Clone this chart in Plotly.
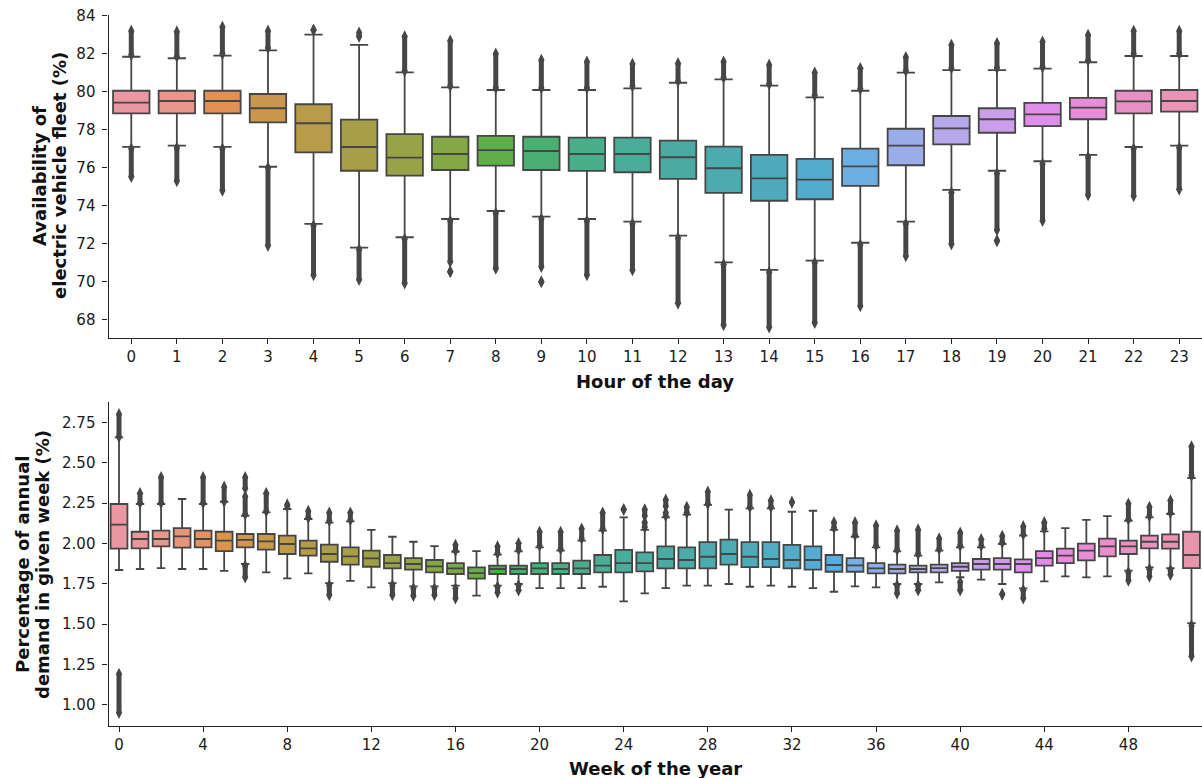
import math
import colorsys
import numpy as np
import plotly.graph_objects as go

# ---------------- data ----------------
hours = list(range(24))
hour_q1 = [78.86, 78.86, 78.86, 78.39, 76.81, 75.84, 75.58, 75.88, 76.11, 75.88, 75.83, 75.76,
           75.41, 74.68, 74.26, 74.34, 75.04, 76.13, 77.23, 77.84, 78.19, 78.55, 78.86, 78.95]
hour_median = [79.42, 79.51, 79.51, 79.13, 78.34, 77.09, 76.53, 76.72, 76.93, 76.88, 76.72, 76.72,
               76.55, 75.97, 75.44, 75.37, 76.07, 77.16, 78.07, 78.55, 78.81, 79.16, 79.49, 79.51]
hour_q3 = [80.05, 80.05, 80.05, 79.88, 79.34, 78.53, 77.77, 77.63, 77.68, 77.63, 77.58, 77.58,
           77.42, 77.11, 76.67, 76.46, 77.00, 78.05, 78.72, 79.13, 79.41, 79.68, 80.05, 80.09]
hour_whishi = [81.84, 81.76, 81.90, 82.18, 83.00, 82.46, 81.02, 80.23, 80.09, 80.09, 80.09, 80.18,
               80.47, 80.65, 80.32, 79.70, 80.05, 81.00, 81.14, 81.14, 81.21, 81.55, 81.88, 81.88]
hour_whislo = [77.10, 77.16, 77.10, 76.05, 73.04, 71.79, 72.34, 73.30, 73.72, 73.42, 73.30, 73.16,
               72.42, 71.02, 70.62, 71.11, 72.05, 73.16, 74.83, 75.84, 76.34, 76.67, 77.09, 77.16]
# outlier runs per hour as [low, high] spans (a single point has low == high)
hour_fliers = [
    [[81.95, 83.20], [75.53, 77.00]],
    [[81.85, 83.16], [75.30, 77.05]],
    [[82.00, 83.40], [74.80, 77.00]],
    [[82.30, 83.20], [71.90, 76.00]],
    [[83.25, 83.25], [70.35, 72.95]],
    [[82.90, 83.10], [70.10, 71.70]],
    [[81.10, 82.90], [69.92, 72.25]],
    [[80.30, 82.68], [70.53, 70.53], [71.05, 73.20]],
    [[80.20, 82.00], [70.70, 73.60]],
    [[80.20, 81.67], [70.00, 70.00], [70.79, 73.30]],
    [[80.20, 81.58], [70.35, 73.20]],
    [[80.30, 81.46], [70.62, 73.05]],
    [[80.55, 81.49], [68.86, 72.30]],
    [[80.75, 81.58], [67.72, 70.90]],
    [[80.40, 81.41], [67.60, 70.50]],
    [[79.80, 81.00], [67.84, 71.00]],
    [[80.15, 81.23], [68.72, 71.95]],
    [[81.10, 81.81], [71.35, 73.05]],
    [[81.25, 82.46], [71.98, 74.70]],
    [[81.25, 82.55], [72.16, 72.16], [72.72, 75.70]],
    [[81.30, 82.63], [73.21, 76.20]],
    [[81.65, 82.98], [74.56, 76.55]],
    [[82.00, 83.19], [74.51, 77.00]],
    [[82.00, 83.19], [74.86, 77.05]],
]
hour_yticks = [68, 70, 72, 74, 76, 78, 80, 82, 84]

weeks = list(range(52))
week_q1 = [1.967, 1.969, 1.981, 1.973, 1.975, 1.952, 1.975, 1.961, 1.934, 1.924, 1.886, 1.868, 1.855,
           1.845, 1.837, 1.820, 1.810, 1.781, 1.810, 1.810, 1.810, 1.810, 1.810, 1.820, 1.820, 1.826,
           1.845, 1.845, 1.845, 1.868, 1.853, 1.853, 1.845, 1.837, 1.824, 1.824, 1.814, 1.814, 1.820,
           1.820, 1.830, 1.837, 1.837, 1.820, 1.862, 1.878, 1.895, 1.919, 1.934, 1.969, 1.967, 1.847]
week_median = [2.116, 2.027, 2.027, 2.043, 2.027, 2.017, 2.021, 2.012, 1.996, 1.969, 1.934, 1.919, 1.907,
               1.878, 1.872, 1.857, 1.845, 1.816, 1.841, 1.841, 1.845, 1.841, 1.845, 1.862, 1.878, 1.878,
               1.903, 1.897, 1.917, 1.934, 1.917, 1.903, 1.897, 1.897, 1.866, 1.864, 1.845, 1.841, 1.841,
               1.847, 1.855, 1.872, 1.872, 1.872, 1.909, 1.924, 1.955, 1.981, 1.981, 2.010, 2.010, 1.928]
week_q3 = [2.244, 2.072, 2.079, 2.095, 2.079, 2.072, 2.058, 2.058, 2.048, 2.017, 1.992, 1.975, 1.955,
           1.928, 1.909, 1.897, 1.878, 1.851, 1.862, 1.862, 1.878, 1.878, 1.893, 1.928, 1.959, 1.944,
           1.981, 1.975, 2.008, 2.023, 2.008, 2.008, 1.990, 1.981, 1.928, 1.909, 1.878, 1.868, 1.862,
           1.868, 1.878, 1.903, 1.909, 1.901, 1.952, 1.967, 1.998, 2.029, 2.017, 2.048, 2.056, 2.072]
week_whishi = [2.657, 2.244, 2.244, 2.275, 2.244, 2.258, 2.171, 2.192, 2.213, 2.151, 2.128, 2.136, 2.083,
               2.041, 2.010, 1.983, 1.948, 1.952, 1.930, 1.950, 1.975, 1.955, 2.017, 2.079, 2.161, 2.083,
               2.161, 2.178, 2.238, 2.209, 2.217, 2.217, 2.196, 2.202, 2.083, 2.041, 1.975, 1.950, 1.924,
               1.955, 1.975, 1.975, 1.996, 2.048, 2.074, 2.095, 2.145, 2.169, 2.140, 2.161, 2.182, 2.405]
week_whislo = [1.835, 1.841, 1.847, 1.841, 1.841, 1.830, 1.872, 1.820, 1.783, 1.814, 1.754, 1.767, 1.727,
               1.754, 1.733, 1.733, 1.738, 1.676, 1.738, 1.748, 1.723, 1.723, 1.723, 1.731, 1.640, 1.690,
               1.723, 1.738, 1.738, 1.748, 1.731, 1.738, 1.731, 1.723, 1.700, 1.733, 1.727, 1.748, 1.748,
               1.758, 1.790, 1.775, 1.748, 1.721, 1.764, 1.795, 1.789, 1.795, 1.831, 1.851, 1.847, 1.505]
week_fliers = [
    [[2.66, 2.80], [0.95, 1.19]],
    [[2.25, 2.31]],
    [[2.25, 2.41]],
    [],
    [[2.25, 2.41]],
    [[2.26, 2.35]],
    [[2.18, 2.29], [2.34, 2.41], [1.79, 1.86]],
    [[2.20, 2.31]],
    [[2.23, 2.24]],
    [[2.16, 2.20]],
    [[2.14, 2.19], [1.68, 1.74]],
    [[2.145, 2.19]],
    [],
    [[1.68, 1.74]],
    [[1.675, 1.72]],
    [[1.68, 1.72]],
    [[1.955, 1.99], [1.66, 1.72]],
    [],
    [[1.94, 1.98], [1.695, 1.73]],
    [[1.96, 2.00], [1.71, 1.74]],
    [[1.985, 2.07]],
    [[1.965, 2.07]],
    [[2.03, 2.09]],
    [[2.09, 2.19]],
    [[2.21, 2.21]],
    [[2.10, 2.13], [2.17, 2.21]],
    [[2.17, 2.19], [2.23, 2.27]],
    [[2.19, 2.225]],
    [[2.245, 2.32]],
    [],
    [[2.225, 2.30]],
    [[2.225, 2.265]],
    [[2.255, 2.255]],
    [],
    [[2.095, 2.13]],
    [[2.05, 2.13]],
    [[1.985, 2.11]],
    [[1.96, 2.08], [1.69, 1.74]],
    [[1.935, 2.085], [1.71, 1.74]],
    [[1.965, 2.03]],
    [[1.985, 2.065], [1.71, 1.76]],
    [[1.985, 2.025]],
    [[2.005, 2.045], [1.685, 1.685]],
    [[2.055, 2.105], [1.66, 1.71]],
    [[2.09, 2.13]],
    [],
    [],
    [],
    [[2.15, 2.245], [1.77, 1.82]],
    [[2.17, 2.225], [1.795, 1.84]],
    [[2.19, 2.265], [1.805, 1.835]],
    [[2.42, 2.60], [1.30, 1.49]],
]
week_xticks = [0, 4, 8, 12, 16, 20, 24, 28, 32, 36, 40, 44, 48]
week_yticks = [1.00, 1.25, 1.50, 1.75, 2.00, 2.25, 2.50, 2.75]

# ---------------- HUSL palette (seaborn style) ----------------
_M = [[3.2406, -1.5372, -0.4986], [-0.9689, 1.8758, 0.0415], [0.0557, -0.2040, 1.0570]]
_REF_U, _REF_V = 0.19784, 0.46834


def _max_chroma(L, H):
    hrad = math.radians(H)
    sinH, cosH = math.sin(hrad), math.cos(hrad)
    sub1 = ((L + 16) ** 3.0) / 1560896.0
    sub2 = sub1 if sub1 > 0.008856 else (L / 903.3)
    result = float("inf")
    for m1, m2, m3 in _M:
        top = (0.99915 * m1 + 1.05122 * m2 + 1.14460 * m3) * sub2
        rbottom = 0.86330 * m3 - 0.17266 * m2
        lbottom = 0.12949 * m3 - 0.38848 * m1
        bottom = (rbottom * sinH + lbottom * cosH) * sub2
        for t in (0.0, 1.0):
            C = L * (top - 1.05122 * t) / (bottom + 0.17266 * sinH * t)
            if 0.0 < C < result:
                result = C
    return result


def husl_to_rgb(h, s, l):
    C = _max_chroma(l, h) / 100.0 * s
    hrad = math.radians(h)
    U, V = math.cos(hrad) * C, math.sin(hrad) * C
    t = (l + 16.0) / 116.0
    Y = t ** 3 if t ** 3 > 0.008856 else (116.0 * t - 16.0) / 903.3
    varU = U / (13.0 * l) + _REF_U
    varV = V / (13.0 * l) + _REF_V
    X = -(9.0 * Y * varU) / ((varU - 4.0) * varV - varU * varV)
    Z = (9.0 * Y - 15.0 * varV * Y - varV * X) / (3.0 * varV)
    rgb = []
    for r in _M:
        c = r[0] * X + r[1] * Y + r[2] * Z
        c = 12.92 * c if c <= 0.0031308 else 1.055 * c ** (1 / 2.4) - 0.055
        rgb.append(min(max(c, 0.0), 1.0))
    return rgb


def box_palette(n, desat=0.75):
    hues = (np.linspace(0, 1, n + 1)[:-1] + 0.01) % 1 * 359
    cols = []
    for hh in hues:
        r, g, b = husl_to_rgb(hh, 0.9 * 99, 0.7 * 99)
        h_, l_, s_ = colorsys.rgb_to_hls(r, g, b)
        cols.append(colorsys.hls_to_rgb(h_, l_, s_ * desat))
    lum = min(colorsys.rgb_to_hls(*c)[1] for c in cols) * 0.6
    return cols, (lum, lum, lum)


def to_hex(c):
    return "#%02x%02x%02x" % tuple(int(round(v * 255)) for v in c)


# ---------------- figure ----------------
fig = go.Figure()


def add_boxes(cats, q1, med, q3, lo, hi, fliers, xa, ya):
    cols, gray = box_palette(len(cats))
    gray_hex = to_hex(gray)
    for i, c in enumerate(cats):
        fig.add_trace(go.Box(
            x=[c], q1=[q1[i]], median=[med[i]], q3=[q3[i]],
            lowerfence=[lo[i]], upperfence=[hi[i]],
            width=0.8, whiskerwidth=0.5, boxpoints=False,
            fillcolor=to_hex(cols[i]), line=dict(color=gray_hex, width=1.8),
            xaxis=xa, yaxis=ya, showlegend=False, hoverinfo="skip",
        ))
    fx, fy = [], []
    for c, spans in zip(cats, fliers):
        for a, b in spans:
            fx += [c, c, None]
            fy += [a, b, None]
    fig.add_trace(go.Scatter(
        x=fx, y=fy, mode="lines+markers", xaxis=xa, yaxis=ya,
        line=dict(color=gray_hex, width=5),
        marker=dict(symbol="diamond-tall", size=9, color=gray_hex),
        showlegend=False, hoverinfo="skip", connectgaps=False,
    ))


add_boxes(hours, hour_q1, hour_median, hour_q3, hour_whislo, hour_whishi, hour_fliers, "x", "y")
add_boxes(weeks, week_q1, week_median, week_q3, week_whislo, week_whishi, week_fliers, "x2", "y2")

W, H = 1202, 778
x_dom = [108.5 / W, 1.0]
top_dom = [1 - 337.75 / H, 1 - 14.75 / H]
bot_dom = [1 - 726.0 / H, 1 - 401.7 / H]

tick_font = dict(family="DejaVu Sans", size=15, color="#1a1a1a")
axis_common = dict(showline=True, linecolor="#222222", linewidth=1.1, ticks="outside",
                   ticklen=5, tickwidth=1.1, tickcolor="#222222", showgrid=False,
                   zeroline=False, tickfont=tick_font, automargin=False)

fig.update_layout(
    width=W, height=H, margin=dict(l=0, r=0, t=0, b=0),
    paper_bgcolor="white", plot_bgcolor="white",
    boxmode="overlay",
    xaxis=dict(domain=x_dom, anchor="y", range=[-0.5, 23.5], tickmode="array",
               tickvals=hours, ticktext=[str(h) for h in hours], **axis_common),
    yaxis=dict(domain=top_dom, anchor="x", range=[67.05, 84.05], tickmode="array",
               tickvals=hour_yticks, ticktext=[str(v) for v in hour_yticks],
               ticklabelstandoff=4, **axis_common),
    xaxis2=dict(domain=x_dom, anchor="y2", range=[-0.5, 51.5], tickmode="array",
                tickvals=week_xticks, ticktext=[str(v) for v in week_xticks], **axis_common),
    yaxis2=dict(domain=bot_dom, anchor="x2", range=[0.868, 2.878], tickmode="array",
                tickvals=week_yticks, ticktext=["%.2f" % v for v in week_yticks],
                ticklabelstandoff=4, **axis_common),
)

label_font = dict(family="DejaVu Sans", size=18, color="#111111")
x_mid = (x_dom[0] + x_dom[1]) / 2


def label(text, x_px, y_px, angle=0):
    fig.add_annotation(text="<b>%s</b>" % text, x=x_px / W, y=1 - y_px / H,
                       xref="paper", yref="paper", showarrow=False, textangle=angle,
                       xanchor="center", yanchor="middle", font=label_font)


label("Hour of the day", 655, 381)
label("Week of the year", 655, 768)
label("Availability of", 39, 176, -90)
label("electric vehicle fleet (%)", 59, 176, -90)
label("Percentage of annual", 22, 565, -90)
label("demand in given week (%)", 42, 565, -90)

fig.write_html("out.html")
